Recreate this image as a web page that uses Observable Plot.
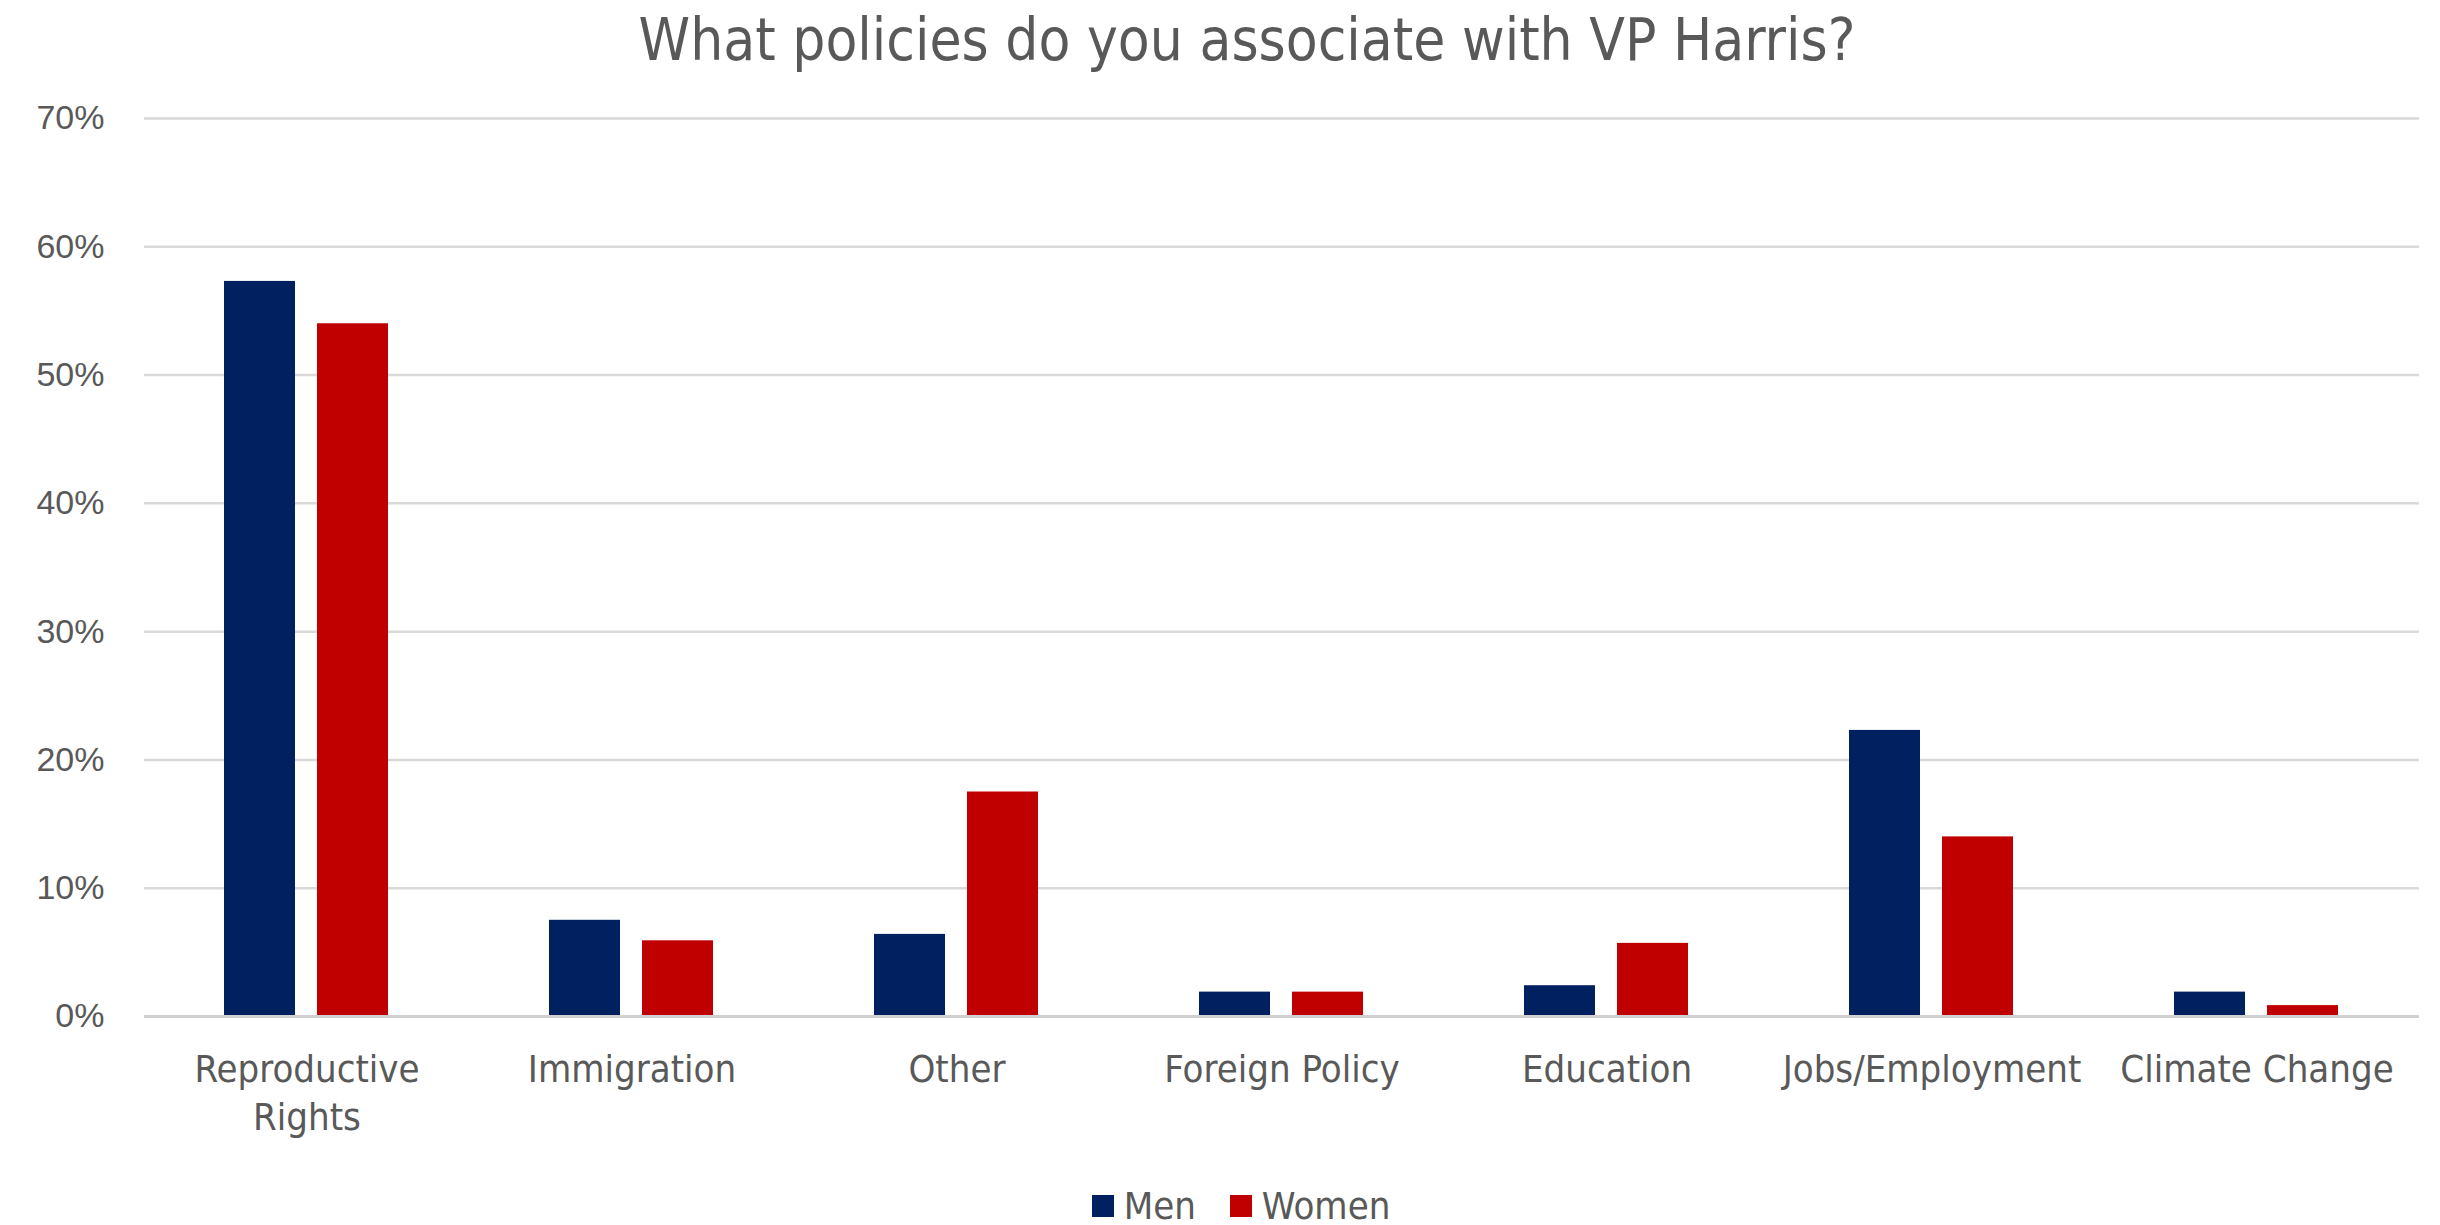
<!DOCTYPE html>
<html>
<head>
<meta charset="utf-8">
<script src="https://cdn.jsdelivr.net/npm/d3@7"></script>
<script src="https://cdn.jsdelivr.net/npm/@observablehq/plot@0.6"></script>
<style>
  html, body { margin: 0; padding: 0; background: #fff; overflow: hidden; }
  #wrap { width: 2440px; height: 1225px; position: relative; }
  #title {
    height: 80px; line-height: 80px; text-align: center;
    font-family: "Liberation Sans Narrow", "DejaVu Sans Condensed", sans-serif;
    font-size: 58px; color: #595959; padding-left: 54px; box-sizing: border-box;
  }
  #legend {
    display: flex; justify-content: center; align-items: center;
    height: 70px; padding-left: 42px; padding-top: 22px; box-sizing: border-box;
    font-family: "Liberation Sans Narrow", "DejaVu Sans Condensed", sans-serif;
    font-size: 38px; color: #595959;
  }
  .item { display: flex; align-items: center; margin: 0 17px; }
  .sw { width: 22px; height: 22px; margin-right: 10px; }
</style>
</head>
<body>
<div id="wrap">
  <div id="title">What policies do you associate with VP Harris?</div>
  <div id="chart"></div>
  <div id="legend"></div>
</div>
<script>
const categories = ["Reproductive Rights", "Immigration", "Other", "Foreign Policy", "Education", "Jobs/Employment", "Climate Change"];
const groups = ["Men", "Women"];
const menValues = [0.573, 0.075, 0.064, 0.019, 0.024, 0.223, 0.019];
const womenValues = [0.540, 0.059, 0.175, 0.019, 0.057, 0.140, 0.0085];
const yTicks = [0, 0.1, 0.2, 0.3, 0.4, 0.5, 0.6, 0.7];
const colors = ["#002060", "#C00000"];

const data = categories.flatMap((c, i) => [
  {category: c, group: groups[0], value: menValues[i]},
  {category: c, group: groups[1], value: womenValues[i]}
]);

const chart = Plot.plot({
  width: 2440,
  height: 1080,
  marginTop: 38,
  marginBottom: 144,
  marginLeft: 143,
  marginRight: 20,
  style: {background: "#fff", color: "#595959"},
  fx: {domain: categories, padding: 0, label: null},
  x: {domain: groups, paddingInner: 0.234, paddingOuter: 0.846, axis: null},
  y: {domain: [0, 0.7], axis: null},
  color: {domain: groups, range: colors},
  marks: [
    Plot.gridY(yTicks, {stroke: "#d9d9d9", strokeOpacity: 1, strokeWidth: 2.5}),
    Plot.axisY(yTicks, {
      tickFormat: d3.format(".0%"), tickSize: 0, tickPadding: 40,
      fontSize: 34, fill: "#595959", label: null,
      fontFamily: "Liberation Sans, Arial, sans-serif"
    }),
    Plot.barY(data, {fx: "category", x: "group", y: "value", fill: "group"}),
    Plot.ruleY([0], {stroke: "#d0d0d0", strokeWidth: 3}),
    Plot.axisFx({
      anchor: "bottom", tickSize: 0, tickPadding: 32, fontSize: 38, lineHeight: 1.25,
      fill: "#595959", label: null,
      fontFamily: "Liberation Sans Narrow, DejaVu Sans Condensed, sans-serif",
      tickFormat: d => d === "Reproductive Rights" ? "Reproductive\nRights" : d
    })
  ]
});
document.getElementById("chart").appendChild(chart);

const legend = document.getElementById("legend");
groups.forEach((g, i) => {
  const item = document.createElement("div");
  item.className = "item";
  const sw = document.createElement("div");
  sw.className = "sw";
  sw.style.background = colors[i];
  const label = document.createElement("span");
  label.textContent = g;
  item.appendChild(sw);
  item.appendChild(label);
  legend.appendChild(item);
});
</script>
</body>
</html>
